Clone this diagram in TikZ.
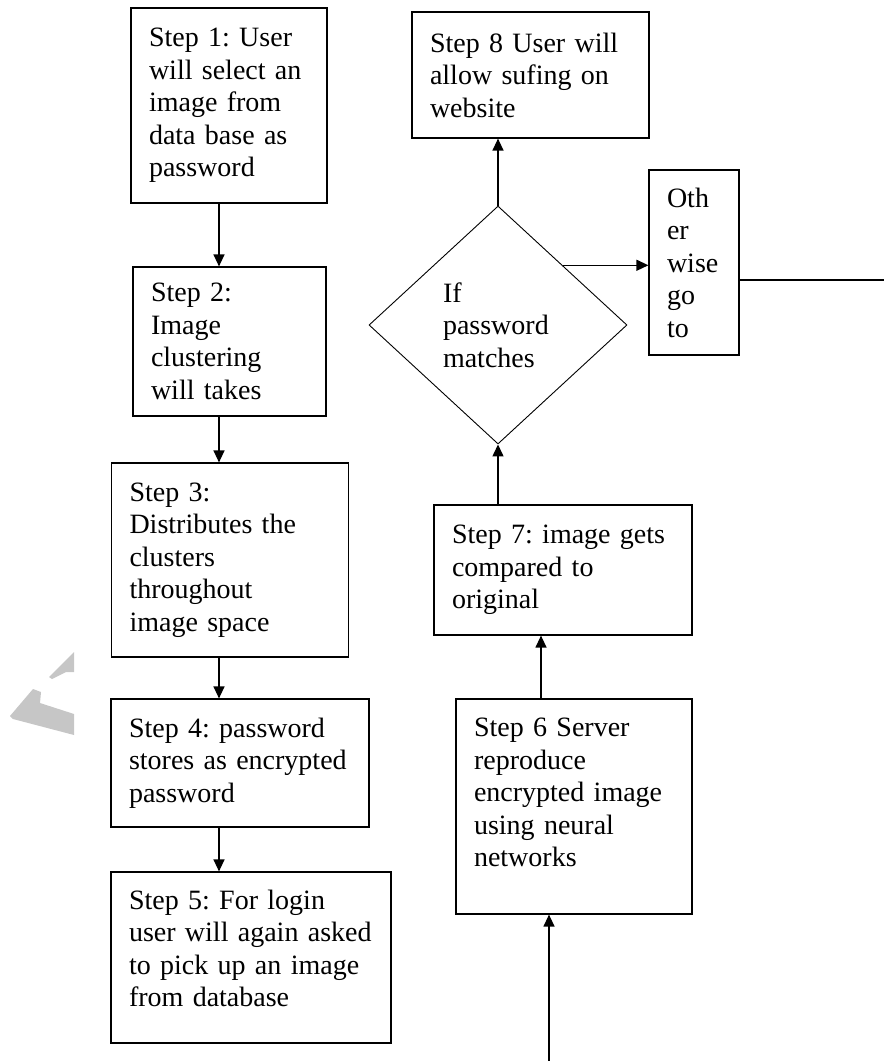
\documentclass[tikz,border=0pt]{standalone}
\usepackage{fontspec}
\setmainfont{Liberation Serif}
\usetikzlibrary{shapes.geometric, arrows.meta}
\hyphenpenalty=10000
\frenchspacing

\begin{document}
\begin{tikzpicture}[x=1pt, y=-1pt, font=\fontsize{28}{32.5}\selectfont]

        % Setup the styles for the boxes and arrows
        \tikzset{step box/.style={draw,
                                  rectangle,
                                  line width=1.2pt,
                                  inner xsep=18pt,
                                  inner ysep=2pt,
                                  align=left},
                 arr/.style={line width=1.3pt,
                             -{Triangle[length=12pt, width=11pt]}}}

        \useasboundingbox (0, 0) rectangle (884, 1061);

        % Watermark fragment
        \fill[gray!45] (74, 652) -- (49, 677) -- (52, 679) -- (66, 672) -- (74, 672) -- cycle;
        \fill[gray!45] (33, 689) -- (41, 692) -- (40, 703) -- (74, 714) -- (74, 735)
                       -- (13, 719) -- (10, 716) -- cycle;

        % Draw the steps
        \node[step box, text width=160pt, minimum height=195pt] at (229, 105.5) (S1)
            {Step 1: User\\will select an\\image from\\data base as\\password};
        \node[step box, text width=157pt, minimum height=149pt] at (229.5, 341.5) (S2)
            {Step 2:\\Image\\clustering\\will takes};
        \node[step box, text width=201pt, minimum height=194pt] at (230, 560) (S3)
            {Step 3:\\Distributes the\\clusters\\throughout\\image space};
        \node[step box, text width=222pt, minimum height=128pt] at (240, 763) (S4)
            {Step 4: password\\stores as encrypted\\password};
        \node[step box, text width=244pt, minimum height=171pt] at (251, 957.5) (S5)
            {Step 5: For login\\user will again asked\\to pick up an image\\from database\\[-14.5pt]\mbox{}};
        \node[step box, text width=200pt, minimum height=215pt] at (574, 806.5) (S6)
            {Step 6 Server\\reproduce\\encrypted image\\using neural\\networks\\[-4.5pt]\mbox{}};
        \node[step box, text width=222pt, minimum height=130pt] at (563, 570) (S7)
            {Step 7: image gets\\compared to\\original};
        \node[step box, text width=201pt, minimum height=126pt] at (530.5, 75) (S8)
            {Step 8 User will\\allow sufing on\\website};
        \node[step box, text width=54pt, minimum height=185pt] at (694, 262.5) (O)
            {Oth\\er\\wise\\go\\to};

        % Decision
        \node[draw, diamond, line width=0.9pt, minimum width=258pt, minimum height=238pt,
              text width=110pt, align=left] at (498, 325) (D)
            {If\\password\\matches};

        % Free ends
        \coordinate (spine) at (219, 0);
        \coordinate (bot) at (549, 1061);
        \coordinate (exit) at (884, 280);

        % Connect the steps with arrows
        \draw[arr] (S1.south -| spine) -- (S2.north -| spine);
        \draw[arr] (S2.south -| spine) -- (S3.north -| spine);
        \draw[arr] (S3.south -| spine) -- (S4.north -| spine);
        \draw[arr] (S4.south -| spine) -- (S5.north -| spine);
        \draw[arr] (bot) -- (bot |- S6.south);
        \draw[arr] ([xshift=-33pt]S6.north) -- ([xshift=-33pt]S6.north |- S7.south);
        \draw[arr] (S7.north -| D.south) -- (D.south);
        \draw[arr] (D.north) -- (D.north |- S8.south);
        \draw[arr] (D.north east) -- (D.north east -| O.west);
        \draw[line width=1.2pt] (exit -| O.east) -- (exit);
    \end{tikzpicture}
\end{document}
